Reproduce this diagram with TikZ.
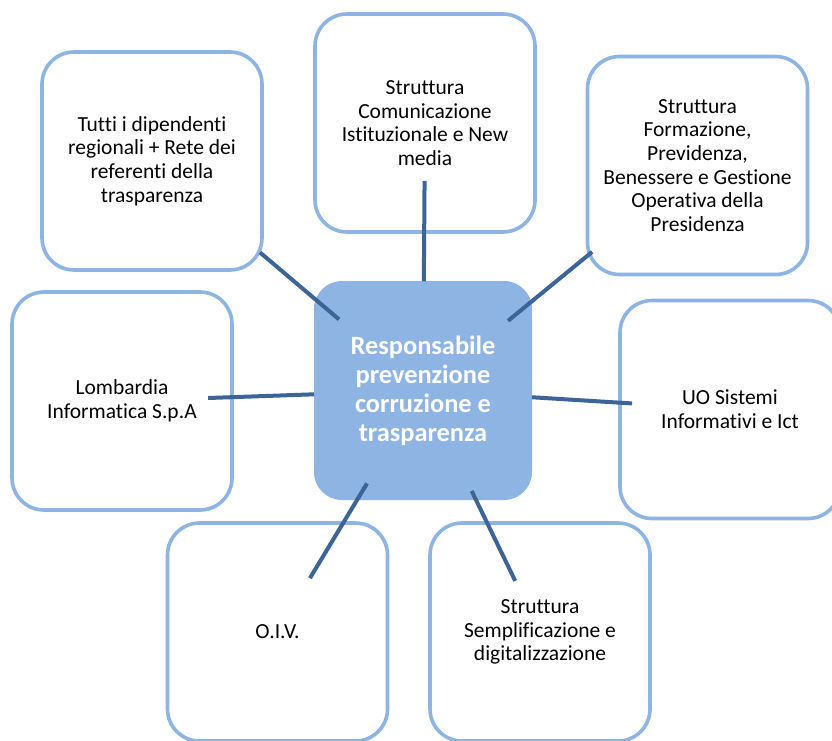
\documentclass[tikz,border=0pt]{standalone}
\usepackage{fontspec}
\setmainfont{Carlito}[Ligatures=NoCommon]
\usetikzlibrary{calc}
\definecolor{boxblue}{HTML}{8EB4E3}
\definecolor{linkblue}{HTML}{3C6496}
\begin{document}
\begin{tikzpicture}[x=1pt,y=-1pt,
  outer/.style={draw=boxblue, line width=3.6pt, fill=white, rounded corners=32pt, minimum width=220pt, minimum height=218pt, align=center, font=\fontsize{21.5}{23.7}\selectfont, text=black, inner sep=0pt},
  hub/.style={fill=boxblue, rounded corners=28pt, minimum width=218pt, minimum height=219pt, align=center, text=white, font=\bfseries\fontsize{26.4}{29}\selectfont, inner sep=0pt},
  link/.style={draw=linkblue, line width=4pt}]
\useasboundingbox (0,0) rectangle (832,740);
\clip (0,0) rectangle (832,740);
\node[hub] (hub) at (423,390.5) {Responsabile\\prevenzione\\corruzione e\\trasparenza};
\node[outer] (tl) at (152,161) {Tutti i dipendenti\\regionali + Rete dei\\referenti della\\trasparenza};
\node[outer] (top) at (425,123) {Struttura\\Comunicazione\\Istituzionale e New\\media};
\node[outer] (tr) at (697.5,165.5) {Struttura\\Formazione,\\Previdenza,\\Benessere e Gestione\\Operativa della\\Presidenza};
\node[outer] (lf) at (122,401) {Lombardia\\Informatica S.p.A};
\node[outer] (rt) at (730,409.5) {UO Sistemi\\Informativi e Ict};
\node[outer] (bl) at (277.5,632) {O.I.V.};
\node[outer] (br) at (540,632) {Struttura\\Semplificazione e\\digitalizzazione};
\draw[link] ($(tl)!0.3985!(hub)$) -- ($(tl)!0.69!(hub)$);
\draw[link] ($(top)!0.217!(hub)$) -- ($(top)!0.592!(hub)$);
\draw[link] ($(tr)!0.384!(hub)$) -- ($(tr)!0.69!(hub)$);
\draw[link] ($(lf)!0.286!(hub)$) -- ($(lf)!0.638!(hub)$);
\draw[link] ($(rt)!0.319!(hub)$) -- ($(rt)!0.645!(hub)$);
\draw[link] ($(bl)!0.223!(hub)$) -- ($(bl)!0.615!(hub)$);
\draw[link] ($(br)!0.212!(hub)$) -- ($(br)!0.584!(hub)$);
\end{tikzpicture}
\end{document}
